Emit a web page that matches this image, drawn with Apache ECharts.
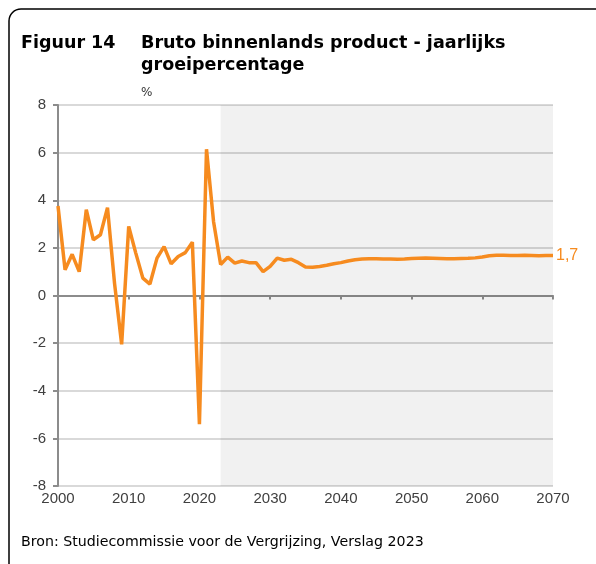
<!DOCTYPE html>
<html>
<head>
<meta charset="utf-8">
<script src="https://cdn.jsdelivr.net/npm/echarts@6/dist/echarts.min.js"></script>
<style>
  html, body { margin: 0; padding: 0; background: #fff; }
  #container { width: 596px; height: 564px; }
</style>
</head>
<body>
<div id="container"></div>
<script>
// jaarlijkse groei bbp (%), 2000 t/m 2070
var startYear = 2000;
var growth = [
    3.76, 1.08, 1.73, 1.0, 3.6, 2.34, 2.55, 3.69, 0.5, -2.05,
    2.9, 1.78, 0.73, 0.48, 1.57, 2.05, 1.33, 1.64, 1.8, 2.24,
    -5.4, 6.14, 3.1, 1.3, 1.61, 1.36, 1.45, 1.38, 1.38, 1.0,
    1.22, 1.57, 1.48, 1.52, 1.38, 1.2, 1.19, 1.22, 1.27, 1.33,
    1.38, 1.45, 1.5, 1.53, 1.54, 1.54, 1.53, 1.53, 1.52, 1.53,
    1.55, 1.56, 1.57, 1.56, 1.55, 1.54, 1.54, 1.55, 1.56, 1.58,
    1.62, 1.67, 1.69, 1.69, 1.68, 1.68, 1.69, 1.68, 1.67, 1.68,
    1.68
];
var projectionStart = 2023;
var endLabel = '1,7';

var orange = '#f68b1f';
var axisGrey = '#8c8c8c';
var labelFont = '"Liberation Sans Narrow", "Liberation Sans"';
var titleFont = '"DejaVu Sans"';

var seriesData = growth.map(function (v, i) {
    return [startYear + i, v];
});

var dom = document.getElementById('container');
var myChart = echarts.init(dom);
var option = {
    animation: false,
    grid: { left: 58, right: 43, top: 105, bottom: 78 },
    graphic: [
        {
            type: 'rect', z: -1, silent: true,
            shape: { x: 9, y: 9, width: 800, height: 800, r: [12, 0, 0, 0] },
            style: { fill: null, stroke: '#000', lineWidth: 1.5 }
        },
        {
            type: 'text', left: 21, top: 34,
            style: { text: 'Figuur 14', font: 'bold 17.5px ' + titleFont, fill: '#000' }
        },
        {
            type: 'text', left: 141, top: 34,
            style: { text: 'Bruto binnenlands product - jaarlijks', font: 'bold 17.6px ' + titleFont, fill: '#000' }
        },
        {
            type: 'text', left: 141, top: 56,
            style: { text: 'groeipercentage', font: 'bold 17.5px ' + titleFont, fill: '#000' }
        },
        {
            type: 'text', left: 141, top: 87,
            style: { text: '%', font: '12px ' + titleFont, fill: '#333' }
        },
        {
            type: 'text', left: 21, top: 535,
            style: { text: 'Bron: Studiecommissie voor de Vergrijzing, Verslag 2023', font: '14.2px ' + titleFont, fill: '#000' }
        }
    ],
    xAxis: [
        {
            type: 'value', min: 2000, max: 2070, interval: 10,
            axisLine: { onZero: true, lineStyle: { color: axisGrey, width: 2 } },
            axisTick: { show: true, length: 4, lineStyle: { color: axisGrey, width: 2 } },
            axisLabel: { show: false },
            splitLine: { show: false }
        },
        {
            type: 'value', min: 2000, max: 2070, interval: 10, position: 'bottom',
            axisLine: { show: false, onZero: false },
            axisTick: { show: false },
            axisLabel: {
                color: '#404040', fontFamily: labelFont, fontSize: 15, margin: 5,
                formatter: function (v) { return String(v); }
            },
            splitLine: { show: false }
        }
    ],
    yAxis: {
        type: 'value', min: -8, max: 8, interval: 2,
        axisLine: { show: true, onZero: false, lineStyle: { color: axisGrey, width: 2 } },
        axisTick: { show: true, length: 5, lineStyle: { color: axisGrey, width: 2 } },
        axisLabel: { color: '#404040', fontFamily: labelFont, fontSize: 15, margin: 12 },
        splitLine: { lineStyle: { color: '#d9d9d9', width: 2 } }
    },
    series: [
        {
            type: 'line',
            xAxisIndex: 0,
            data: seriesData,
            showSymbol: false,
            lineStyle: { color: orange, width: 3.5 },
            itemStyle: { color: orange },
            endLabel: {
                show: true, formatter: endLabel, color: orange,
                fontFamily: labelFont, fontSize: 16, distance: 3
            },
            markArea: {
                silent: true,
                itemStyle: { color: 'rgba(0,0,0,0.055)' },
                data: [[{ xAxis: projectionStart }, { xAxis: 2070 }]]
            }
        }
    ]
};
myChart.setOption(option);
</script>
</body>
</html>
